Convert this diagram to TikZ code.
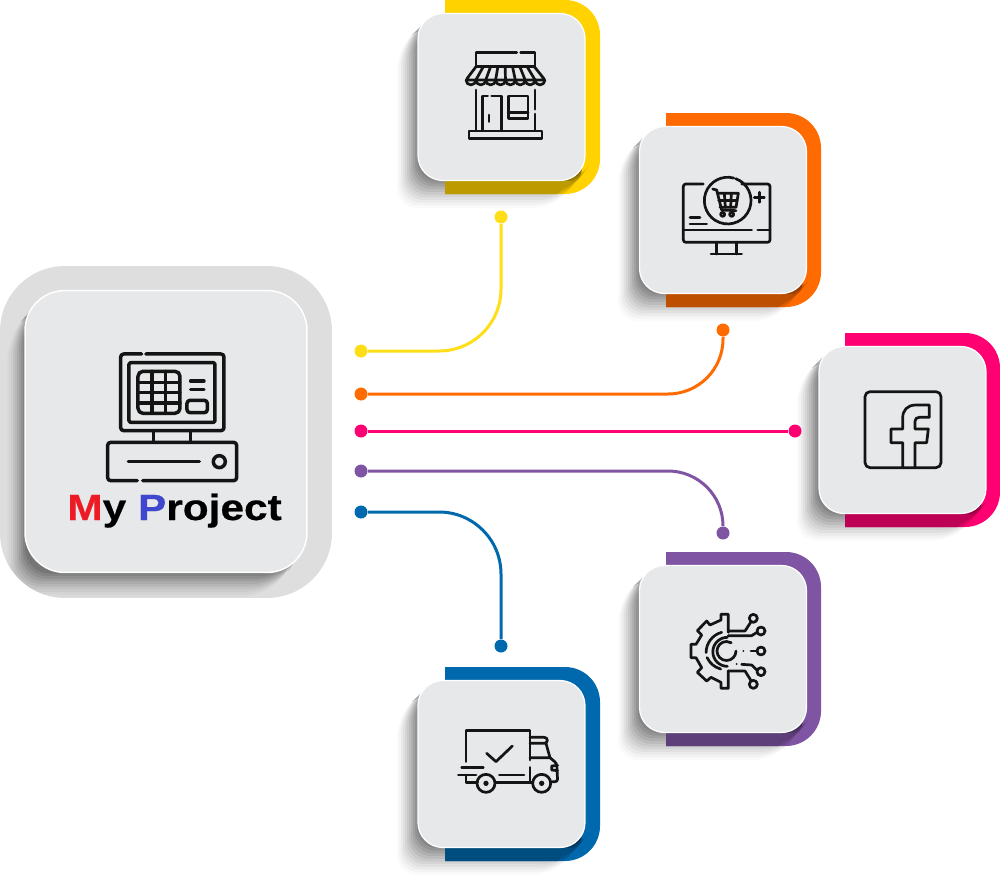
\documentclass[tikz,border=0pt]{standalone}
\usepackage{fontspec}
\newfontfamily\labelfont[FakeStretch=1.16,BoldFeatures={FakeBold=0.5}]{Liberation Sans}
\definecolor{bandyellow}{HTML}{FFD200}
\definecolor{linkyellow}{HTML}{FFDE17}
\definecolor{bandorange}{HTML}{FF6B00}
\definecolor{bandpink}{HTML}{FF0073}
\definecolor{bandpurple}{HTML}{7F55A3}
\definecolor{bandblue}{HTML}{0069AD}
\definecolor{cardgrey}{HTML}{E6E8E9}
\definecolor{framegrey}{HTML}{DEDEDE}
\definecolor{letterred}{HTML}{ED1C24}
\definecolor{letterblue}{HTML}{3F48CC}
\tikzset{
	cardface/.style={draw=white, line width=0.025cm, fill=cardgrey, rounded corners=0.5cm, minimum size=3.34cm, inner sep=0},
	bigface/.style={draw=white, line width=0.03cm, fill=cardgrey, rounded corners=0.8cm, minimum size=5.64cm, inner sep=0},
	bigframe/.style={fill=framegrey, rounded corners=1.3cm, minimum size=6.64cm, inner sep=0},
	dotmark/.style={circle, inner sep=0, minimum size=0.26cm},
	linkline/.style={line width=0.06cm},
	zoomed/.style={x=0.00667cm, y=-0.00667cm, line width=0.054cm, line cap=round, line join=round, color=black!92},
	projectlabel/.style={anchor=base west, inner sep=0, font=\labelfont\bfseries\fontsize{20.8pt}{24pt}\selectfont}
}
\newcommand{\cardback}[3]{
	\begin{scope}[shift={(#1,#2)}]
		\fill[#3] (27,-13) [rounded corners=0.7cm] -- (182,-13) -- (182,181) [sharp corners] -- (27,181) -- cycle;
		\foreach \gap [evaluate=\gap as \veil using 0.02+0.0036*\gap] in {0,2,...,20}
			\fill[black, opacity=\veil, rounded corners=0.4cm] (8,8) -- (-21+\gap,37-\gap) -- (-21+\gap,195-1.35*\gap) -- (135+1.2*\gap,195-1.35*\gap) -- (172,152) -- cycle;
		\fill[#3!74!black] (27,168) -- (155,168) -- (139,181) -- (27,181) -- cycle;
	\end{scope}
}
\begin{document}
\begin{tikzpicture}[x=0.02cm, y=-0.02cm]
	\useasboundingbox (0,0) rectangle (1000,875);

	\node[bigframe] (frame) at (166,432) {};
	\begin{scope}
		\clip[rounded corners=1.3cm] (0,266) rectangle (332,598);
		\foreach \gap [evaluate=\gap as \veil using 0.018+0.0045*\gap] in {0,2,...,18}
			\fill[black, opacity=\veil, rounded corners=0.5cm] (37,302) -- (7+\gap,337-\gap) -- (7+\gap,597-1.3*\gap) -- (267+1.1*\gap,597-1.3*\gap) -- (302,550) -- cycle;
	\end{scope}
	\node[bigface] (mainbox) at (166,431.5) {};

	\cardback{418}{13}{bandyellow}
	\cardback{639}{126}{bandorange}
	\cardback{818}{346}{bandpink}
	\cardback{639}{565}{bandpurple}
	\cardback{418}{680}{bandblue}

	\node[cardface] (shopcard) at (501.5,97) {};
	\node[cardface] (cartcard) at (723,210) {};
	\node[cardface] (fbcard) at (902.5,430) {};
	\node[cardface] (gearcard) at (723,649) {};
	\node[cardface] (truckcard) at (501.5,764) {};

	\node[dotmark, fill=linkyellow] (shopstart) at (361,351) {};
	\node[dotmark, fill=linkyellow] (shopend) at (501,217) {};
	\node[dotmark, fill=bandorange] (cartstart) at (361,394) {};
	\node[dotmark, fill=bandorange] (cartend) at (723,330) {};
	\node[dotmark, fill=bandpink] (fbstart) at (361,431) {};
	\node[dotmark, fill=bandpink] (fbend) at (795,431) {};
	\node[dotmark, fill=bandpurple] (gearstart) at (361,471) {};
	\node[dotmark, fill=bandpurple] (gearend) at (723,533) {};
	\node[dotmark, fill=bandblue] (truckstart) at (361,512) {};
	\node[dotmark, fill=bandblue] (truckend) at (501,646) {};

	\draw[linkline, linkyellow, rounded corners=1.24cm] (shopstart) -| (shopend);
	\draw[linkline, bandorange, rounded corners=1.1cm] (cartstart) -| (cartend);
	\draw[linkline, bandpink] (fbstart) -- (fbend);
	\draw[linkline, bandpurple, rounded corners=1.1cm] (gearstart) -| (gearend);
	\draw[linkline, bandblue, rounded corners=1.24cm] (truckstart) -| (truckend);

	\begin{scope}[shift={(0,260)}, zoomed, line width=0.07cm]
		\draw[rounded corners=0.06cm] (425,282) -- (362,282) -- (362,512) -- (672,512) -- (672,282) -- (438,282);
		\draw[rounded corners=0.03cm] (387,308) rectangle (645,487);
		\draw[rounded corners=0.1cm] (414,334) rectangle (540,460);
		\draw (456,334) -- (456,460);
		\draw (497,334) -- (497,460);
		\draw (414,367) -- (540,367);
		\draw (414,398) -- (540,398);
		\draw (414,429) -- (540,429);
		\draw (572,363) -- (612,363);
		\draw (572,388) -- (612,388);
		\draw[rounded corners=0.06cm] (561,421) rectangle (622,458);
		\draw (460,512) -- (460,546);
		\draw (572,512) -- (572,546);
		\draw[rounded corners=0.06cm] (412,662) -- (323,662) -- (323,547) -- (710,547) -- (710,662) -- (428,662);
		\draw (385,605) -- (598,605);
		\draw (658,605) circle[radius=18];
	\end{scope}
	\node[projectlabel] (projecttext) at (67,520) {\textcolor{letterred}{M}y \textcolor{letterblue}{P}roject};

	\begin{scope}[shift={(390,0)}, zoomed]
		\draw (258,200) -- (258,158) -- (380,158);
		\draw (392,158) -- (435,158) -- (435,200);
		\draw (258,200) -- (433,200);
		\draw[rounded corners=0.04cm] (258,200) -- (228,240) -- (465,240) -- (433,200);
		\foreach \rib in {1,...,7}
			\draw (258+21.9*\rib,200) -- (228+29.6*\rib,240);
		\foreach \rib in {0,...,7}
			\draw (228+29.6*\rib,240) arc[start angle=180, end angle=360, radius=0.0987cm];
		\draw (258,270) -- (258,392);
		\draw (435,270) -- (435,328);
		\draw (435,342) -- (435,392);
		\draw (278,392) -- (278,288) -- (293,288);
		\draw (305,288) -- (335,288) -- (335,392);
		\draw (297,345) -- (297,365);
		\draw (355,288) rectangle (414,356);
		\draw (355,338) -- (414,338);
		\draw (237,393) rectangle (456,415);
	\end{scope}

	\begin{scope}[shift={(610,110)}, zoomed]
		\draw[rounded corners=0.05cm] (280,222) -- (220,222) -- (220,397) -- (480,397) -- (480,222) -- (395,222);
		\draw (222,360) -- (425,360);
		\draw (443,360) -- (478,360);
		\draw (377,206) arc[start angle=70, end angle=-285, radius=0.467cm];
		\draw (320,397) -- (320,432);
		\draw (380,397) -- (380,432);
		\draw (303,432) -- (395,432);
		\draw (448,247) -- (448,277);
		\draw (433,262) -- (463,262);
		\draw (240,323) -- (270,323);
		\draw (240,342) -- (290,342);
		\draw (308,237) -- (320,240) -- (335,300) -- (378,302);
		\draw (322,250) -- (385,250) -- (378,292) -- (330,292);
		\draw (326,271) -- (381,271);
		\draw (343,250) -- (346,292);
		\draw (364,250) -- (362,292);
		\draw (338,313) circle[radius=6];
		\draw (365,313) circle[radius=6];
	\end{scope}

	\begin{scope}[shift={(790,330)}, zoomed]
		\draw[rounded corners=0.1cm] (225,185) rectangle (453,413);
		\draw (338,413) -- (338,338) -- (303,338) -- (303,297) -- (338,297) -- (338,265)
			.. controls (338,240) and (352,225) .. (378,225) -- (418,225) -- (418,262) -- (388,262)
			.. controls (380,262) and (375,266) .. (375,274) -- (375,297) -- (415,297) -- (410,338) -- (375,338) -- (375,413);
	\end{scope}

	\begin{scope}[shift={(610,545)}, zoomed]
		\draw (355,262) -- (355,208) -- (333,208) -- (333,225) -- (300,240) -- (290,228) -- (262,257) -- (275,270) -- (258,298) -- (243,298) -- (243,338) -- (258,338) -- (275,368) -- (262,382) -- (290,408) -- (303,397) -- (333,412) -- (333,430) -- (355,430) -- (355,378);
		\draw (355,258) -- (405,258) -- (422,232);
		\draw (355,272) -- (425,272) -- (441,262);
		\draw (355,378) -- (405,378) -- (422,405);
		\draw (395,358) -- (425,360) -- (441,376);
		\draw (423,318) -- (441,318);
		\draw (430,220) circle[radius=12];
		\draw (453,258) circle[radius=12];
		\draw (453,318) circle[radius=12];
		\draw (453,380) circle[radius=12];
		\draw (430,418) circle[radius=12];
		\fill (400,318) circle[radius=3];
		\fill (380,357) circle[radius=3];
		\draw (378,318) arc[start angle=0, end angle=-300, radius=0.19cm];
		\draw (352,277) arc[start angle=90, end angle=270, radius=0.29cm];
		\draw (335,262) arc[start angle=105, end angle=180, radius=0.42cm];
		\draw (332,372) arc[start angle=255, end angle=205, radius=0.42cm];
	\end{scope}

	\begin{scope}[shift={(390,660)}, zoomed]
		\draw (228,305) -- (228,212) -- (420,212) -- (420,300);
		\draw (420,322) -- (420,368);
		\draw (215,323) -- (280,323);
		\draw (205,345) -- (258,345);
		\draw (328,345) -- (402,345);
		\draw (228,345) -- (228,368) -- (262,368);
		\draw (316,368) -- (428,368);
		\draw (290,280) -- (318,305) -- (367,258);
		\draw[rounded corners=0.06cm] (420,232) -- (472,232) -- (472,250) -- (420,250);
		\draw (468,250) -- (480,293) -- (420,293);
		\draw[rounded corners=0.05cm] (480,293) -- (500,310) -- (503,365) -- (485,365);
		\draw (503,316) -- (485,318) -- (485,330) -- (503,332);
		\draw (288,370) circle[radius=27];
		\fill (288,370) circle[radius=8];
		\draw (455,370) circle[radius=27];
		\fill (455,370) circle[radius=8];
	\end{scope}
\end{tikzpicture}
\end{document}
